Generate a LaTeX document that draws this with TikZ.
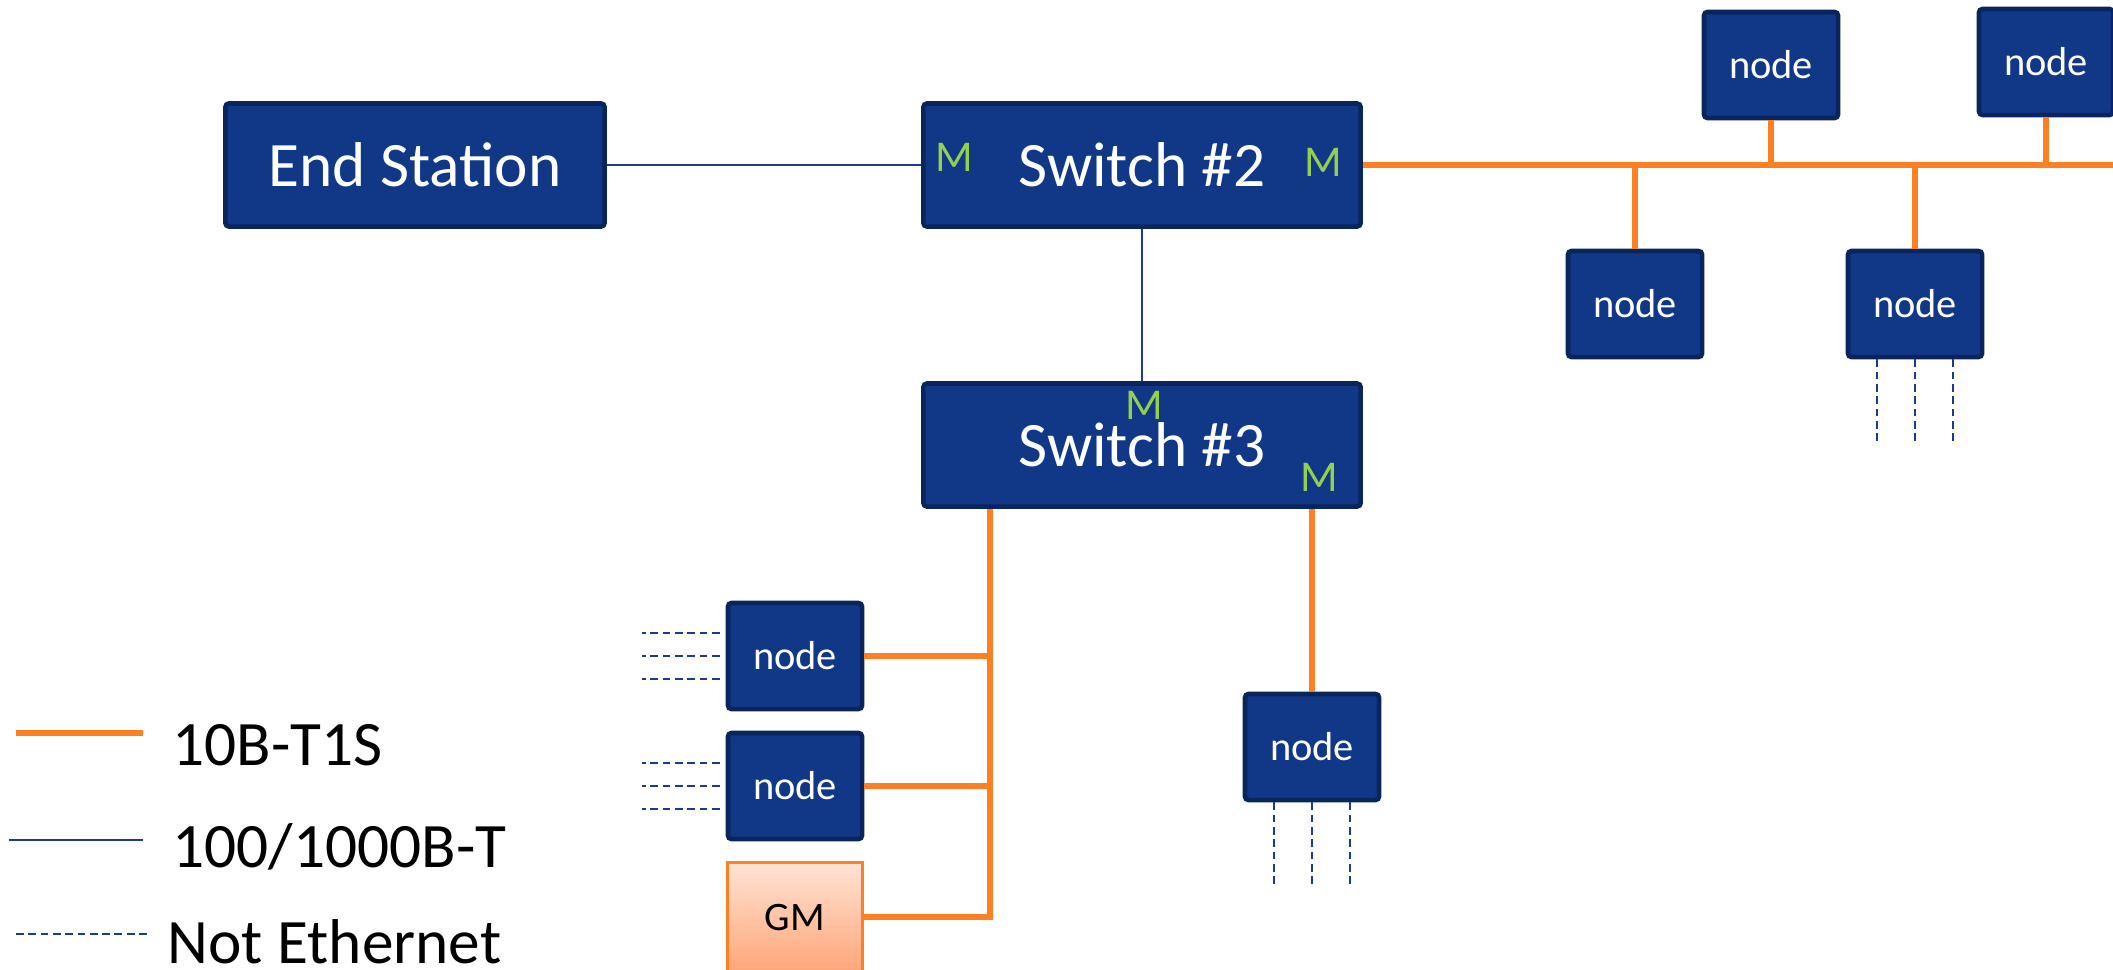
\documentclass[tikz,border=0pt]{standalone}
\usepackage{fontspec}
\setmainfont{Carlito}
\usetikzlibrary{calc}
\definecolor{boxfill}{RGB}{17,55,135}
\definecolor{boxedge}{RGB}{10,36,92}
\definecolor{linkblue}{RGB}{30,58,140}
\definecolor{tsorange}{RGB}{255,128,36}
\definecolor{portgreen}{RGB}{146,208,80}
\definecolor{gmtop}{RGB}{255,227,213}
\definecolor{gmbot}{RGB}{255,166,120}

\tikzset{
  unit/.style={draw=boxedge, fill=boxfill, line width=1.3pt, rounded corners=1pt,
    text=white, inner sep=0pt},
  bigunit/.style={unit, minimum width=4.37cm, minimum height=1.23cm,
    font=\fontsize{18}{20}\selectfont},
  smallunit/.style={unit, minimum width=1.34cm, minimum height=1.06cm,
    font=\fontsize{11.5}{13}\selectfont},
  gmunit/.style={draw=tsorange, line width=0.8pt, top color=gmtop, bottom color=gmbot,
    minimum width=1.35cm, minimum height=1.09cm, inner sep=0pt,
    font=\fontsize{11.5}{13}\selectfont},
  port/.style={text=portgreen, inner sep=0pt, font=\fontsize{12.5}{14}\selectfont},
  legendtext/.style={inner sep=0pt, anchor=base west, font=\fontsize{18}{20}\selectfont},
  eth10/.style={draw=tsorange, line width=1.7pt},
  eth100/.style={draw=linkblue, line width=0.6pt},
  noneth/.style={draw=linkblue, line width=0.6pt, dash pattern=on 2.2pt off 1.3pt}
}

\begin{document}
\begin{tikzpicture}[x=0.01cm, y=-0.01cm]
    \useasboundingbox (0,0) rectangle (2113,969);
    \clip (0,0) rectangle (2113,969);

    % stations and switches
    \node[bigunit, minimum width=3.79cm] (es) at (415,165) {End Station};
    \node[bigunit] (sw2) at (1142,165) {Switch \#2};
    \node[bigunit] (sw3) at (1142,445) {Switch \#3};

    \node[port] (m2w) at (954,157) {M};
    \node[port] (m2e) at (1323,162) {M};
    \node[port] (m3n) at (1144,405) {M};
    \node[port] (m3e) at (1319,477) {M};

    % nodes on the multidrop segment of switch 2
    \node[smallunit] (tn1) at (1771,65) {node};
    \node[smallunit] (tn2) at (2046,62) {node};
    \node[smallunit] (bn1) at (1635,304) {node};
    \node[smallunit] (bn2) at (1915,304) {node};

    % nodes below switch 3
    \node[smallunit] (na) at (795,656) {node};
    \node[smallunit] (nb) at (795,786) {node};
    \node[gmunit] (gm) at (795,917) {GM};
    \node[smallunit] (nc) at (1312,747) {node};

    % 100/1000B-T links
    \draw[eth100] (es.east) -- (sw2.west);
    \draw[eth100] (sw2.south) -- (sw3.north);

    % 10B-T1S bus of switch 2
    \coordinate (busend) at (2120,165);
    \draw[eth10] (sw2.east) -- (busend);
    \foreach \n in {tn1,tn2}
      \draw[eth10] (\n.south) -- (\n.south |- busend);
    \foreach \n in {bn1,bn2}
      \draw[eth10] (\n.north) -- (\n.north |- busend);

    % 10B-T1S bus of switch 3
    \coordinate (s3bus) at (990,0);
    \draw[eth10] (sw3.south -| s3bus) -- (gm.east -| s3bus) -- (gm.east);
    \foreach \n in {na,nb}
      \draw[eth10] (\n.east) -- (\n.east -| s3bus);
    \draw[eth10] (sw3.south -| nc.north) -- (nc.north);

    % non-ethernet wires
    \foreach \n in {na,nb}
      \foreach \dy in {-23,0,23}
        \draw[noneth] ($(\n.west)+(-6,\dy)$) -- ++(-78,0);
    \foreach \n in {nc,bn2}
      \foreach \dx in {-38,0,38}
        \draw[noneth] ($(\n.south)+(\dx,0)$) -- ++(0,84);

    % legend
    \draw[eth10] (16,733) -- (143,733);
    \node[legendtext] (lg1) at (172,765) {10B-T1S};
    \draw[eth100] (9,840) -- (143,840);
    \node[legendtext] (lg2) at (172,867) {100/1000B-T};
    \draw[noneth] (16,934) -- (150,934);
    \node[legendtext] (lg3) at (167,963) {Not Ethernet};
  \end{tikzpicture}
\end{document}
